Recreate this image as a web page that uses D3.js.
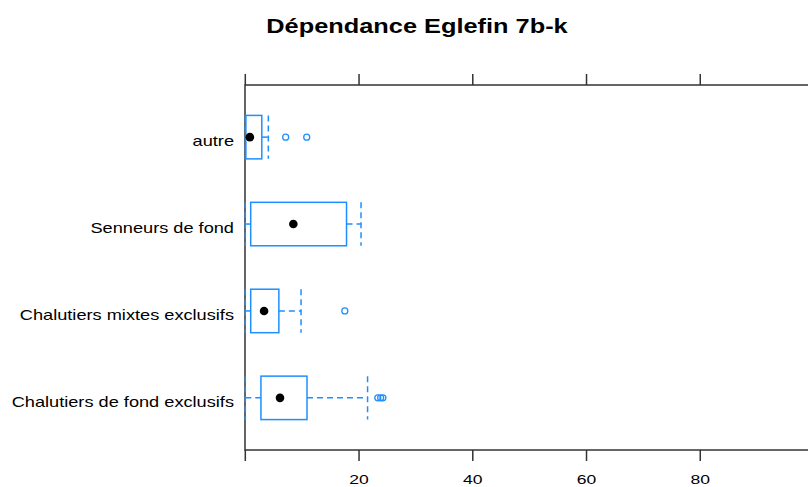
<!DOCTYPE html>
<html>
<head>
<meta charset="utf-8">
<script src="https://cdn.jsdelivr.net/npm/d3@7"></script>
<style>
  body { margin: 0; background: #fff; }
  svg text { font-family: "Liberation Sans", Arial, sans-serif; }
</style>
</head>
<body>
<svg id="chart"></svg>
<script>
// box stats per group, bottom to top
const categories = ["Chalutiers de fond exclusifs", "Chalutiers mixtes exclusifs", "Senneurs de fond", "autre"];
const lowWhisker = [0, 0, 0, 0];
const q1 = [2.75, 0.95, 0.95, 0.1];
const median = [6.1, 3.3, 8.45, 0.8];
const q3 = [10.85, 5.9, 17.8, 2.9];
const highWhisker = [21.5, 9.8, 20.35, 4.05];
const outliers = [[23.3, 23.8, 24.2], [17.5], [], [7.1, 10.8]];
const xTicks = [0, 20, 40, 60, 80];

const width = 808, height = 487;
const mLeft = 245, mTop = 85, mBottom = 450, mRight = 814;
const blue = "#1f8fff";
const stretch = 1.3; // the reference text is rendered wide

const svg = d3.select('#chart').attr('width', width).attr('height', height);

const x = d3.scaleLinear().domain([0, 100]).range([mLeft + 0.3, mRight]);
const y = d3.scalePoint().domain(categories).range([mBottom, mTop]).padding(0.6);
const boxH = y.step() * 0.5;

// helper for wide text
function wideText(sel, tx, ty) {
    return sel.append('text').attr('transform', `translate(${tx},${ty}) scale(${stretch},1)`);
}

// title
wideText(svg, 417, 33)
    .attr('text-anchor', 'middle')
    .attr('font-size', 19.5).attr('font-weight', 'bold')
    .text('Dépendance Eglefin 7b-k');

// panel border
svg.append('rect')
    .attr('x', mLeft).attr('y', mTop)
    .attr('width', mRight - mLeft).attr('height', mBottom - mTop)
    .attr('fill', 'none').attr('stroke', '#333').attr('stroke-width', 1.5);

// x ticks top and bottom
const tk = svg.append('g').attr('stroke', '#333').attr('stroke-width', 1.5);
xTicks.forEach(t => {
    tk.append('line').attr('x1', x(t)).attr('x2', x(t)).attr('y1', mBottom).attr('y2', mBottom + 11);
    tk.append('line').attr('x1', x(t)).attr('x2', x(t)).attr('y1', mTop).attr('y2', mTop - 11);
});
const tl = svg.append('g');
xTicks.filter(t => t !== 0).forEach(t => {
    wideText(tl, x(t), 484)
        .attr('text-anchor', 'middle').attr('font-size', 13.5)
        .text(t);
});

// y labels
const yt = svg.append('g');
categories.forEach(c => {
    wideText(yt, 234, y(c) + 9)
        .attr('text-anchor', 'end').attr('font-size', 14)
        .text(c);
});

// boxes
const g = svg.append('g');
categories.forEach((c, i) => {
    const cy = y(c);
    // whiskers
    g.append('line').attr('x1', x(lowWhisker[i])).attr('x2', x(q1[i]))
        .attr('y1', cy).attr('y2', cy)
        .attr('stroke', blue).attr('stroke-width', 1.5).attr('stroke-dasharray', '6,4');
    g.append('line').attr('x1', x(q3[i])).attr('x2', x(highWhisker[i]))
        .attr('y1', cy).attr('y2', cy)
        .attr('stroke', blue).attr('stroke-width', 1.5).attr('stroke-dasharray', '6,4');
    // caps
    [lowWhisker[i], highWhisker[i]].forEach(v => {
        g.append('line').attr('x1', x(v)).attr('x2', x(v))
            .attr('y1', cy - boxH / 2).attr('y2', cy + boxH / 2)
            .attr('stroke', blue).attr('stroke-width', 1.5).attr('stroke-dasharray', '6,4');
    });
    // box
    g.append('rect')
        .attr('x', x(q1[i])).attr('y', cy - boxH / 2)
        .attr('width', x(q3[i]) - x(q1[i])).attr('height', boxH)
        .attr('fill', 'none').attr('stroke', blue).attr('stroke-width', 1.5);
    // median dot
    g.append('circle').attr('cx', x(median[i])).attr('cy', cy).attr('r', 4.3).attr('fill', '#000');
    // outliers
    outliers[i].forEach(v => {
        g.append('circle').attr('cx', x(v)).attr('cy', cy).attr('r', 3)
            .attr('fill', 'none').attr('stroke', blue).attr('stroke-width', 1.3);
    });
});
</script>
</body>
</html>
